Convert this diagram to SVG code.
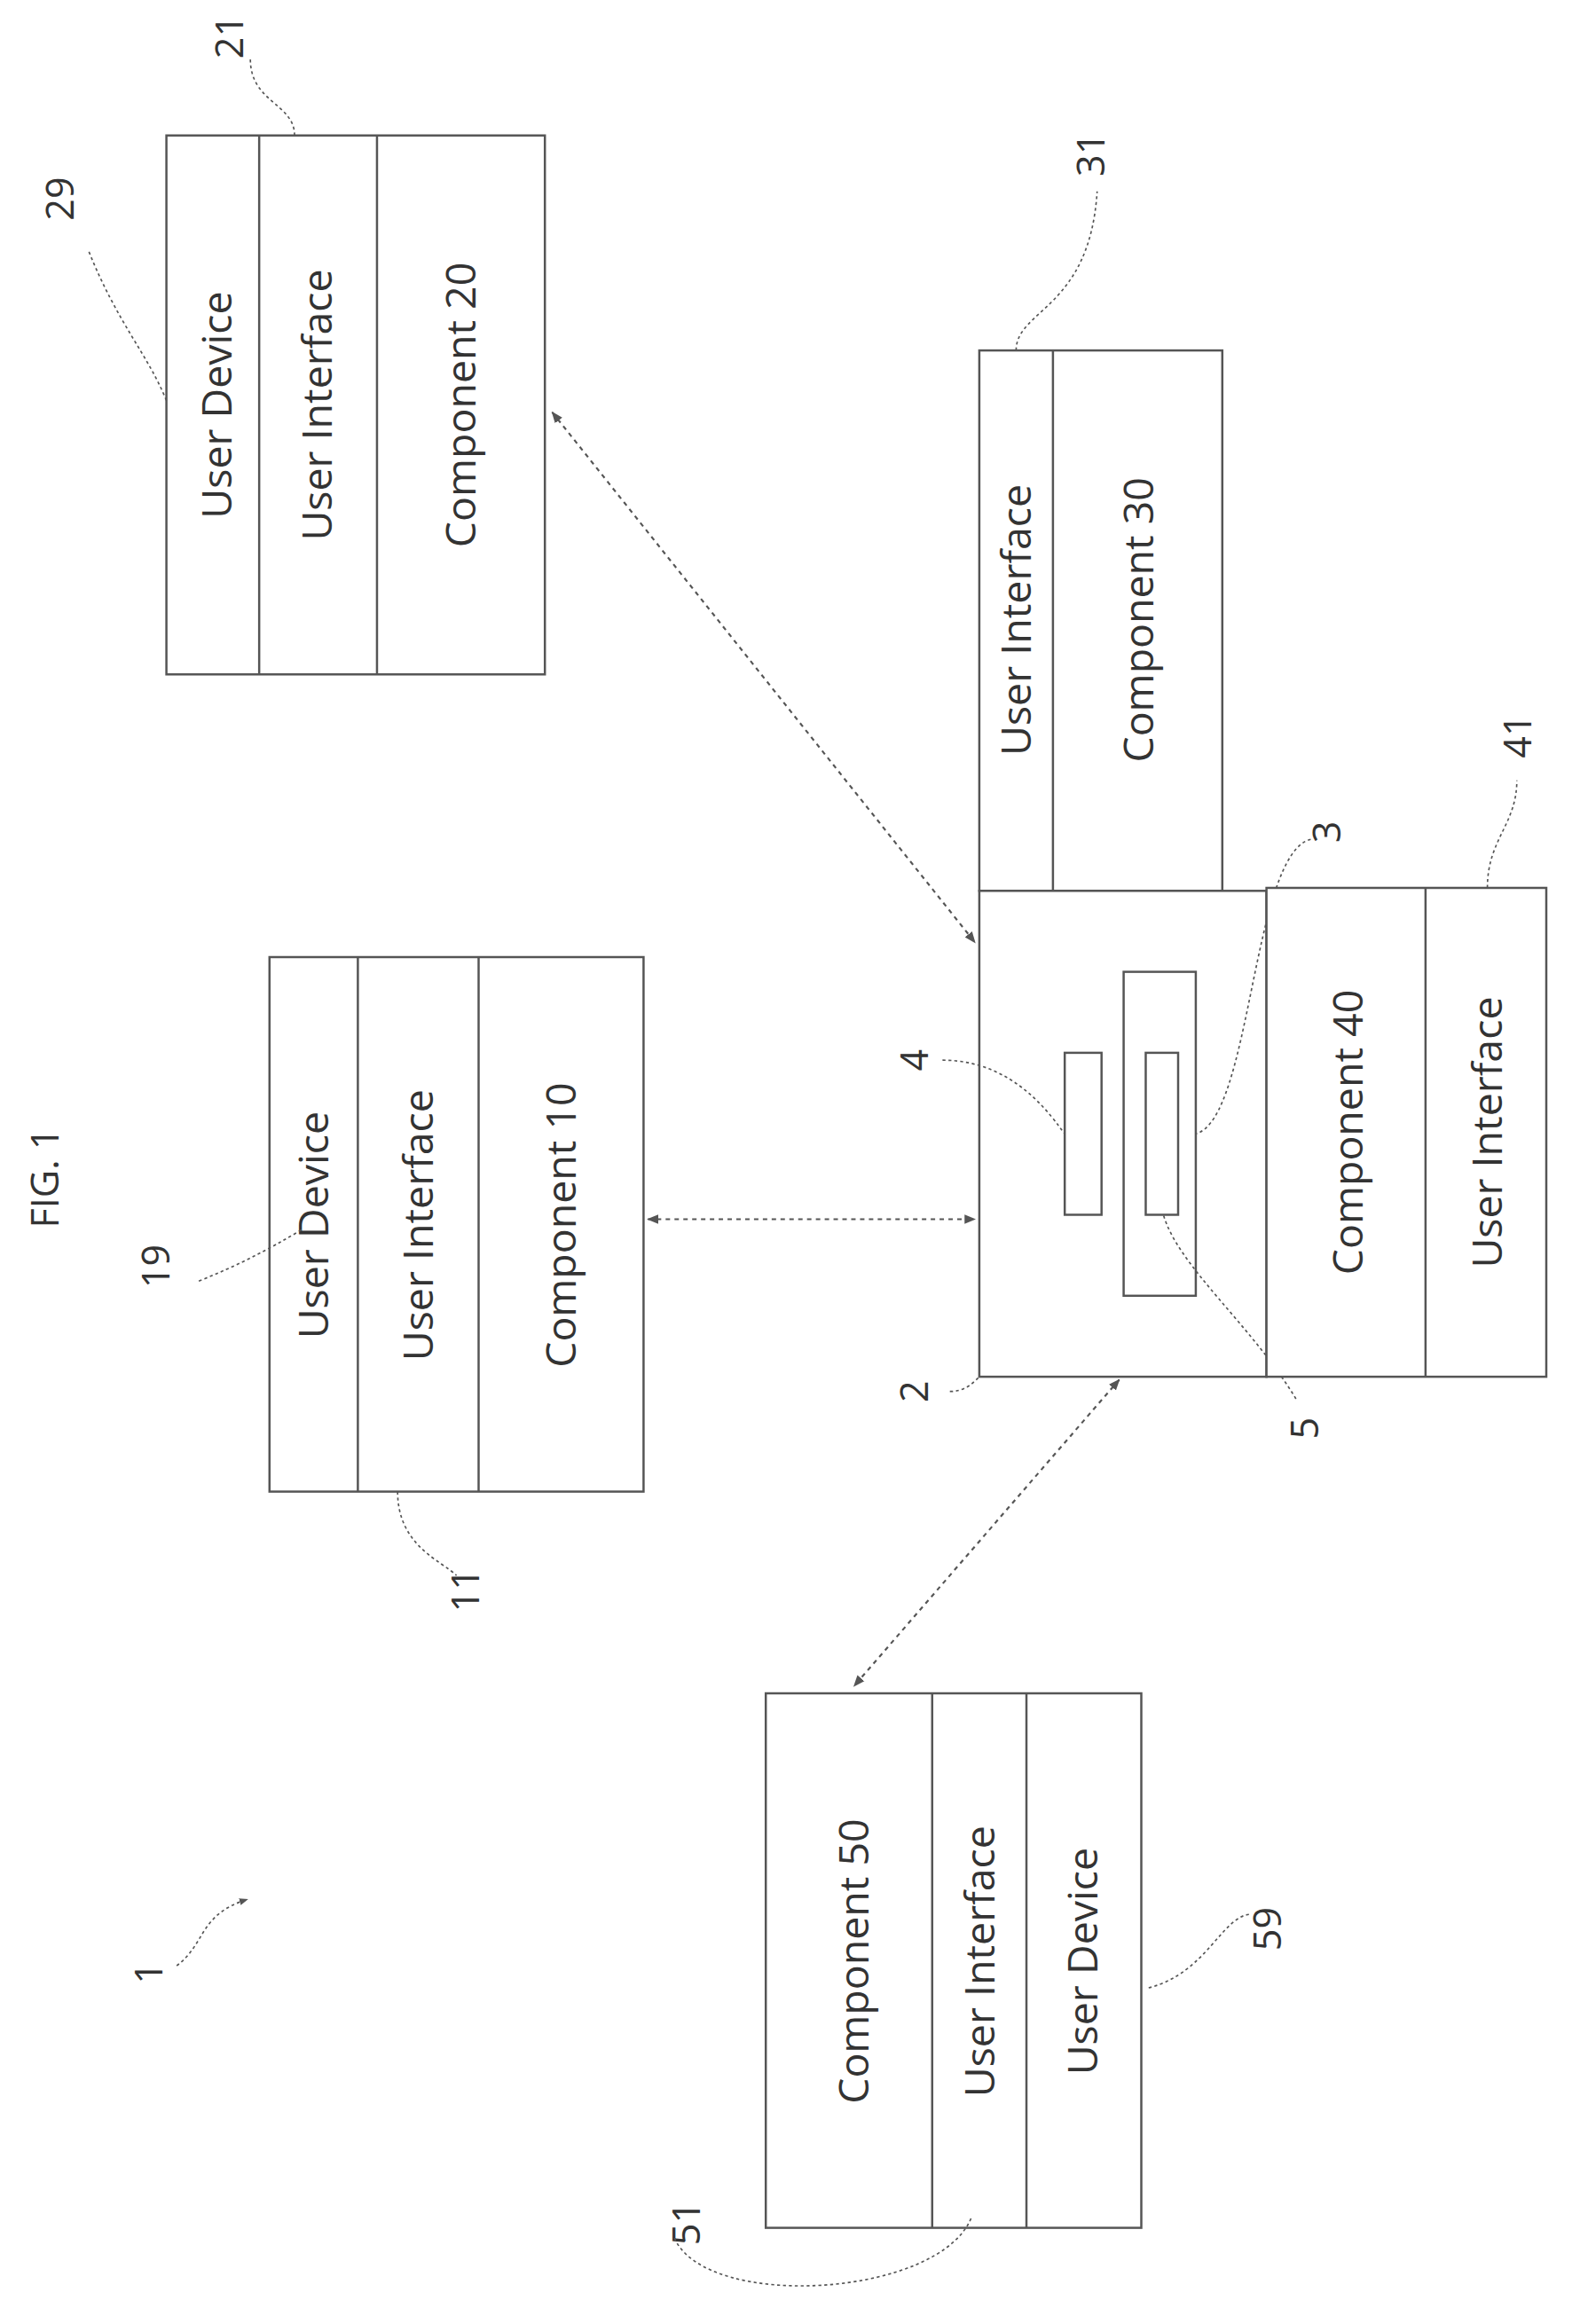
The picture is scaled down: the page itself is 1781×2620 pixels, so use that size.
<svg xmlns="http://www.w3.org/2000/svg" width="1781" height="2620" viewBox="0 0 1781 2620">
<defs>
<style>
.b{fill:#fff;stroke:#555;stroke-width:1.5}
.d{stroke:#555;stroke-width:1;stroke-dasharray:2 2;fill:none}
.c{stroke:#555;stroke-width:1.3;stroke-dasharray:3 3;fill:none}
.t{font-family:"Open Sans","Liberation Sans",sans-serif;font-size:28px;fill:#333;text-anchor:middle}
.n{font-family:"Open Sans","Liberation Sans",sans-serif;font-size:26px;fill:#333;text-anchor:middle}
</style>
<marker id="a" viewBox="0 0 10 10" refX="9" refY="5" markerWidth="6" markerHeight="6" orient="auto-start-reverse"><path d="M0,1 L10,5 L0,9 z" fill="#555"/></marker>
</defs>
<rect width="1781" height="2620" fill="#fff"/>
<g transform="scale(1.66)">
<g id="fig"><text class="n" transform="translate(40,800) rotate(-90)">FIG. 1</text></g>
<g id="n1"><text class="n" transform="translate(110,1340) rotate(-90)">1</text><path class="d" d="M120,1335 C140,1320 135,1300 168,1290" marker-end="url(#a)"/></g>
<g id="n21">
<rect class="b" x="113" y="92" width="257" height="366"/>
<line class="b" x1="176" y1="92" x2="176" y2="458"/><line class="b" x1="256" y1="92" x2="256" y2="458"/>
<text class="t" transform="translate(157,275) rotate(-90)">User Device</text>
<text class="t" transform="translate(225,275) rotate(-90)">User Interface</text>
<text class="t" transform="translate(323,275) rotate(-90)">Component 20</text>
<text class="n" transform="translate(165,25) rotate(-90)">21</text>
<path class="d" d="M200,92 C200,70 170,70 170,40"/>
<text class="n" transform="translate(50,135) rotate(-90)">29</text>
<path class="d" d="M113,272 C100,240 80,220 60,170"/>
</g>
<g id="n31">
<rect class="b" x="665" y="238" width="165" height="367"/>
<line class="b" x1="715" y1="238" x2="715" y2="605"/>
<text class="t" transform="translate(700,421) rotate(-90)">User Interface</text>
<text class="t" transform="translate(783,421) rotate(-90)">Component 30</text>
<text class="n" transform="translate(750,105) rotate(-90)">31</text>
<path class="d" d="M690,238 C690,210 740,210 745,130"/>
</g>
<g id="n2">
<rect class="b" x="665" y="605" width="195" height="330"/>
<rect class="b" x="723" y="715" width="25" height="110"/>
<rect class="b" x="763" y="660" width="49" height="220"/>
<rect class="b" x="778" y="715" width="22" height="110"/>
<text class="n" transform="translate(630,945) rotate(-90)">2</text>
<path class="d" d="M645,945 C655,945 660,940 665,935"/>
<text class="n" transform="translate(630,720) rotate(-90)">4</text>
<path class="d" d="M640,720 C690,720 715,760 723,770"/>
<text class="n" transform="translate(910,565) rotate(-90)">3</text>
<path class="d" d="M890,570 C850,580 850,760 812,770"/>
<text class="n" transform="translate(895,970) rotate(-90)">5</text>
<path class="d" d="M880,950 C850,900 800,860 790,825"/>
</g>
<g id="n41">
<rect class="b" x="860" y="603" width="190" height="332"/>
<line class="b" x1="968" y1="603" x2="968" y2="935"/>
<text class="t" transform="translate(925,769) rotate(-90)">Component 40</text>
<text class="t" transform="translate(1020,769) rotate(-90)">User Interface</text>
<text class="n" transform="translate(1040,500) rotate(-90)">41</text>
<path class="d" d="M1010,603 C1010,570 1030,560 1030,530"/>
</g>
<g id="n11">
<rect class="b" x="183" y="650" width="254" height="363"/>
<line class="b" x1="243" y1="650" x2="243" y2="1013"/><line class="b" x1="325" y1="650" x2="325" y2="1013"/>
<text class="t" transform="translate(223,832) rotate(-90)">User Device</text>
<text class="t" transform="translate(294,832) rotate(-90)">User Interface</text>
<text class="t" transform="translate(391,832) rotate(-90)">Component 10</text>
<text class="n" transform="translate(115,860) rotate(-90)">19</text>
<path class="d" d="M135,870 C160,860 180,850 205,835"/>
<text class="n" transform="translate(325,1080) rotate(-90)">11</text>
<path class="d" d="M270,1013 C270,1050 300,1060 310,1070"/>
</g>
<g id="n51">
<rect class="b" x="520" y="1150" width="255" height="363"/>
<line class="b" x1="633" y1="1150" x2="633" y2="1513"/><line class="b" x1="697" y1="1150" x2="697" y2="1513"/>
<text class="t" transform="translate(590,1332) rotate(-90)">Component 50</text>
<text class="t" transform="translate(675,1332) rotate(-90)">User Interface</text>
<text class="t" transform="translate(745,1332) rotate(-90)">User Device</text>
<text class="n" transform="translate(475,1510) rotate(-90)">51</text>
<path class="d" d="M458,1520 C480,1570 640,1560 660,1505"/>
<text class="n" transform="translate(870,1310) rotate(-90)">59</text>
<path class="d" d="M780,1350 C820,1340 830,1300 850,1300"/>
</g>
<g id="connectors">
<line class="c" x1="375" y1="280" x2="662" y2="640" marker-start="url(#a)" marker-end="url(#a)"/>
<line class="c" x1="440" y1="828" x2="662" y2="828" marker-start="url(#a)" marker-end="url(#a)"/>
<line class="c" x1="760" y1="937" x2="580" y2="1145" marker-start="url(#a)" marker-end="url(#a)"/>
</g>
</g>
</svg>
